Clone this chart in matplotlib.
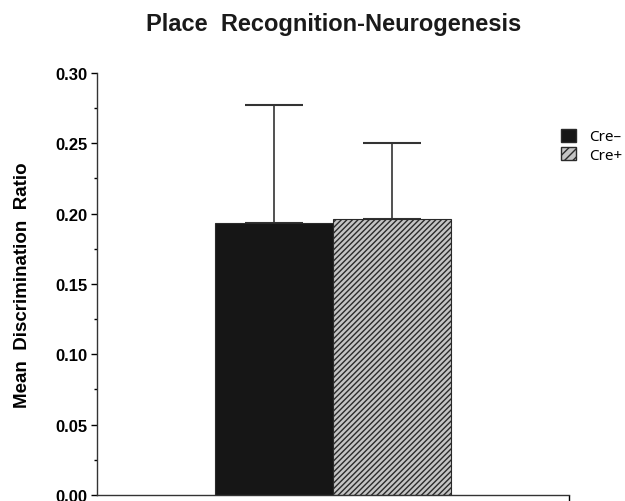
import numpy as np
import matplotlib
matplotlib.use("Agg")
import matplotlib.pyplot as plt
from matplotlib.patches import Patch

plt.rcParams["font.family"] = ["Liberation Sans", "DejaVu Sans"]
plt.rcParams["hatch.linewidth"] = 1.0
plt.rcParams["hatch.color"] = "#1e1e1e"

# ── data ────────────────────────────────────────────────────────────────
groups = ["Cre\u2013", "Cre+"]
means = [0.193, 0.196]
sem_upper = [0.084, 0.054]
positions = [-0.5, 0.5]
face = ["#161616", "#c4c4c4"]
hatches = [None, "//////"]

# ── figure ──────────────────────────────────────────────────────────────
fig = plt.figure(figsize=(6.25, 5.02), dpi=100)
ax = fig.add_axes([0.155, 0.012, 0.755, 0.841])

for x, m, e, fc, h in zip(positions, means, sem_upper, face, hatches):
    ax.bar(x, m, width=1.0, color=fc, edgecolor="#2a2a2a", hatch=h,
           linewidth=0.8, zorder=2)
    ax.errorbar(x, m, yerr=[[0], [e]], fmt="none", ecolor="#333333",
                elinewidth=1.2, capsize=21, capthick=1.5, zorder=1)

ax.set_xlim(-2, 2)
ax.set_ylim(0, 0.30)
ax.set_yticks(np.arange(0, 0.301, 0.05))
ax.set_yticks(np.arange(0, 0.301, 0.025), minor=True)
ax.yaxis.set_major_formatter(plt.FormatStrFormatter("%.2f"))
ax.set_xticks([2])
ax.set_xticklabels([""])
ax.tick_params(axis="y", which="major", length=4, width=1, labelsize=12,
               pad=3)
ax.tick_params(axis="y", which="minor", length=2.5, width=1)
ax.tick_params(axis="x", length=4, width=1)
for lbl in ax.get_yticklabels():
    lbl.set_fontweight("bold")

for s in ["top", "right"]:
    ax.spines[s].set_visible(False)
for s in ["left", "bottom"]:
    ax.spines[s].set_linewidth(1.0)
    ax.spines[s].set_color("#333333")

ax.set_ylabel("Mean  Discrimination  Ratio", fontsize=13.5, fontweight="bold",
              labelpad=17)
fig.text(0.533, 0.952, "Place  Recognition-Neurogenesis", ha="center",
         va="center", fontsize=17, fontweight="bold", color="#1a1a1a")

handles = [Patch(facecolor=face[0], edgecolor="#2a2a2a"),
           Patch(facecolor=face[1], edgecolor="#2a2a2a", hatch="////")]
fig.legend(handles, groups, loc="upper left",
           bbox_to_anchor=(553 / 625, 1 - 122 / 502), frameon=False,
           handlelength=1.0, handleheight=0.95, handletextpad=0.85,
           labelspacing=0.15, borderpad=0, prop={"family": "Noto Sans", "size": 11})

plt.savefig("out.png", dpi=100)
